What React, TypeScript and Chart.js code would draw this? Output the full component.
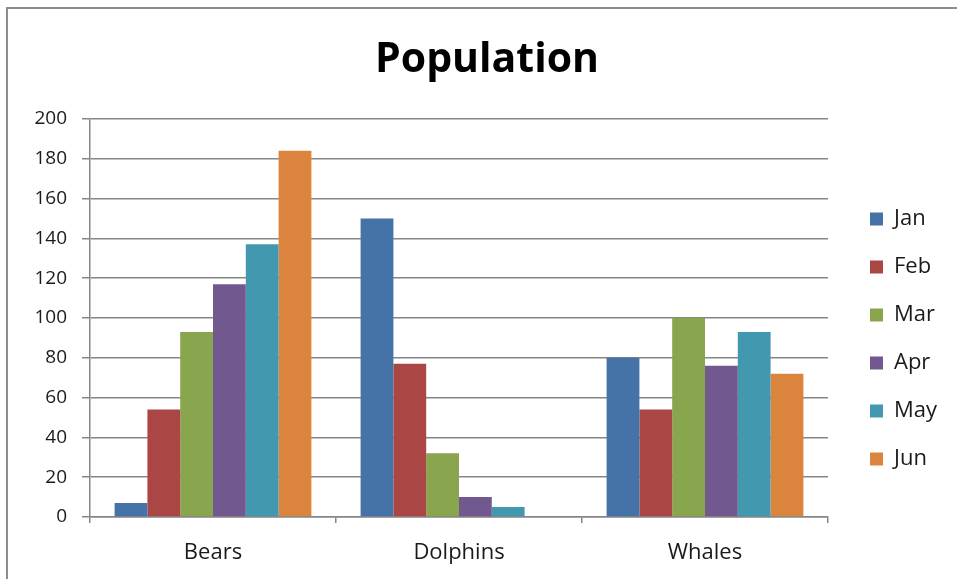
import React, { useEffect, useRef } from 'react';
import { Chart, registerables } from 'chart.js';

Chart.register(...registerables);

// ---- data ----
const categories = ['Bears', 'Dolphins', 'Whales'];
const seriesNames = ['Jan', 'Feb', 'Mar', 'Apr', 'May', 'Jun'];
const janValues = [7, 150, 80];
const febValues = [54, 77, 54];
const marValues = [93, 32, 100];
const aprValues = [117, 10, 76];
const mayValues = [137, 5, 93];
const junValues = [184, 0, 72];
const seriesValues = [janValues, febValues, marValues, aprValues, mayValues, junValues];
const seriesColors = ['#4572A7', '#AA4643', '#89A54E', '#71588F', '#4198AF', '#DB843D'];
const yMin = 0;
const yMax = 200;
const yStep = 20;
const chartTitle = 'Population';

// ---- styling ----
const W = 957;
const H = 579;
const FONT = "'Open Sans'";
const Y_TICK_FONT = 19;
const X_TICK_FONT = 22;
const LEG_FONT = 22;
const LEG_PAD = 26;
const LEG_BOX = 13;
const GRID = '#868686';
const PLOT_LEFT = 90;
const PLOT_RIGHT = 828;
const LEGEND_BOX_X = 870;
const TITLE_CENTER = 487;

export default function App() {
  const ref = useRef<HTMLCanvasElement | null>(null);

  useEffect(() => {
    const canvas = ref.current;
    if (!canvas) return;

    // measure legend text to place the legend precisely
    const mctx = document.createElement('canvas').getContext('2d')!;
    mctx.font = `normal ${LEG_FONT}px ${FONT}`;
    const maxText = Math.max(...seriesNames.map((n) => mctx.measureText(n).width));
    const legendWidth = LEG_PAD + LEG_BOX + LEG_FONT / 2 + maxText + 10;
    const legendLeft = LEGEND_BOX_X - LEG_PAD;
    const padRight = Math.max(0, W - legendLeft - legendWidth);
    const gapAxis = legendLeft - PLOT_RIGHT;
    const padLeft = Math.max(0, 2 * TITLE_CENTER - (W - padRight));
    const yAxisWidth = PLOT_LEFT - padLeft;

    const framePlugin = {
      id: 'frame',
      beforeDraw(chart: any) {
        const ctx = chart.ctx;
        ctx.save();
        ctx.fillStyle = '#ffffff';
        ctx.fillRect(0, 0, W, H);
        ctx.strokeStyle = '#8c8c8c';
        ctx.lineWidth = 2;
        ctx.beginPath();
        ctx.moveTo(7, H);
        ctx.lineTo(7, 8);
        ctx.lineTo(W, 8);
        ctx.stroke();
        ctx.restore();
      },
    };

    const chart = new Chart(canvas, {
      type: 'bar',
      data: {
        labels: categories,
        datasets: seriesNames.map((name, i) => ({
          label: name,
          data: seriesValues[i],
          backgroundColor: seriesColors[i],
          borderColor: seriesColors[i],
          borderWidth: 0,
          categoryPercentage: 0.8,
          barPercentage: 1.0,
          yAxisID: 'y',
        })),
      },
      options: {
        responsive: false,
        animation: false,
        devicePixelRatio: 1,
        layout: { padding: { left: padLeft, top: 0, right: padRight, bottom: 0 } },
        plugins: {
          title: {
            display: true,
            text: chartTitle,
            color: '#000',
            font: { family: FONT, size: 41, weight: 'bold' },
            padding: { top: 35.4, bottom: 34.4 },
          },
          legend: {
            display: true,
            position: 'right',
            fullSize: false,
            title: { display: true, text: ' ', padding: 15, font: { size: 10 } },
            labels: {
              boxWidth: LEG_BOX,
              boxHeight: LEG_BOX,
              padding: LEG_PAD,
              color: '#1a1a1a',
              font: { family: FONT, size: LEG_FONT },
            },
          },
          tooltip: { enabled: false },
        },
        scales: {
          x: {
            offset: true,
            grid: {
              offset: true,
              drawOnChartArea: false,
              drawTicks: true,
              tickLength: 6,
              color: GRID,
              lineWidth: 1.5,
            },
            border: { display: true, color: GRID, width: 1.5 },
            ticks: {
              color: '#1a1a1a',
              font: { family: FONT, size: X_TICK_FONT },
              padding: 17,
              maxRotation: 0,
            },
            afterFit(s: any) {
              s.height = 62;
            },
          },
          y: {
            position: 'left',
            min: yMin,
            max: yMax,
            ticks: {
              stepSize: yStep,
              color: '#1a1a1a',
              font: { family: FONT, size: Y_TICK_FONT },
              padding: 15,
            },
            grid: {
              color: GRID,
              lineWidth: 1.5,
              drawTicks: true,
              tickLength: 8,
            },
            border: { display: true, color: GRID, width: 1.5 },
            afterFit(s: any) {
              s.width = yAxisWidth;
            },
          },
          y2: {
            type: 'linear',
            position: 'right',
            display: true,
            grid: { display: false, drawTicks: false },
            border: { display: false },
            ticks: { display: false },
            afterFit(s: any) {
              s.width = gapAxis;
            },
          },
        },
      },
      plugins: [framePlugin],
    } as any);

    return () => chart.destroy();
  }, []);

  return (
    <canvas
      ref={ref}
      width={W}
      height={H}
      style={{ position: 'absolute', left: 0, top: 0, width: W, height: H, display: 'block' }}
    />
  );
}
